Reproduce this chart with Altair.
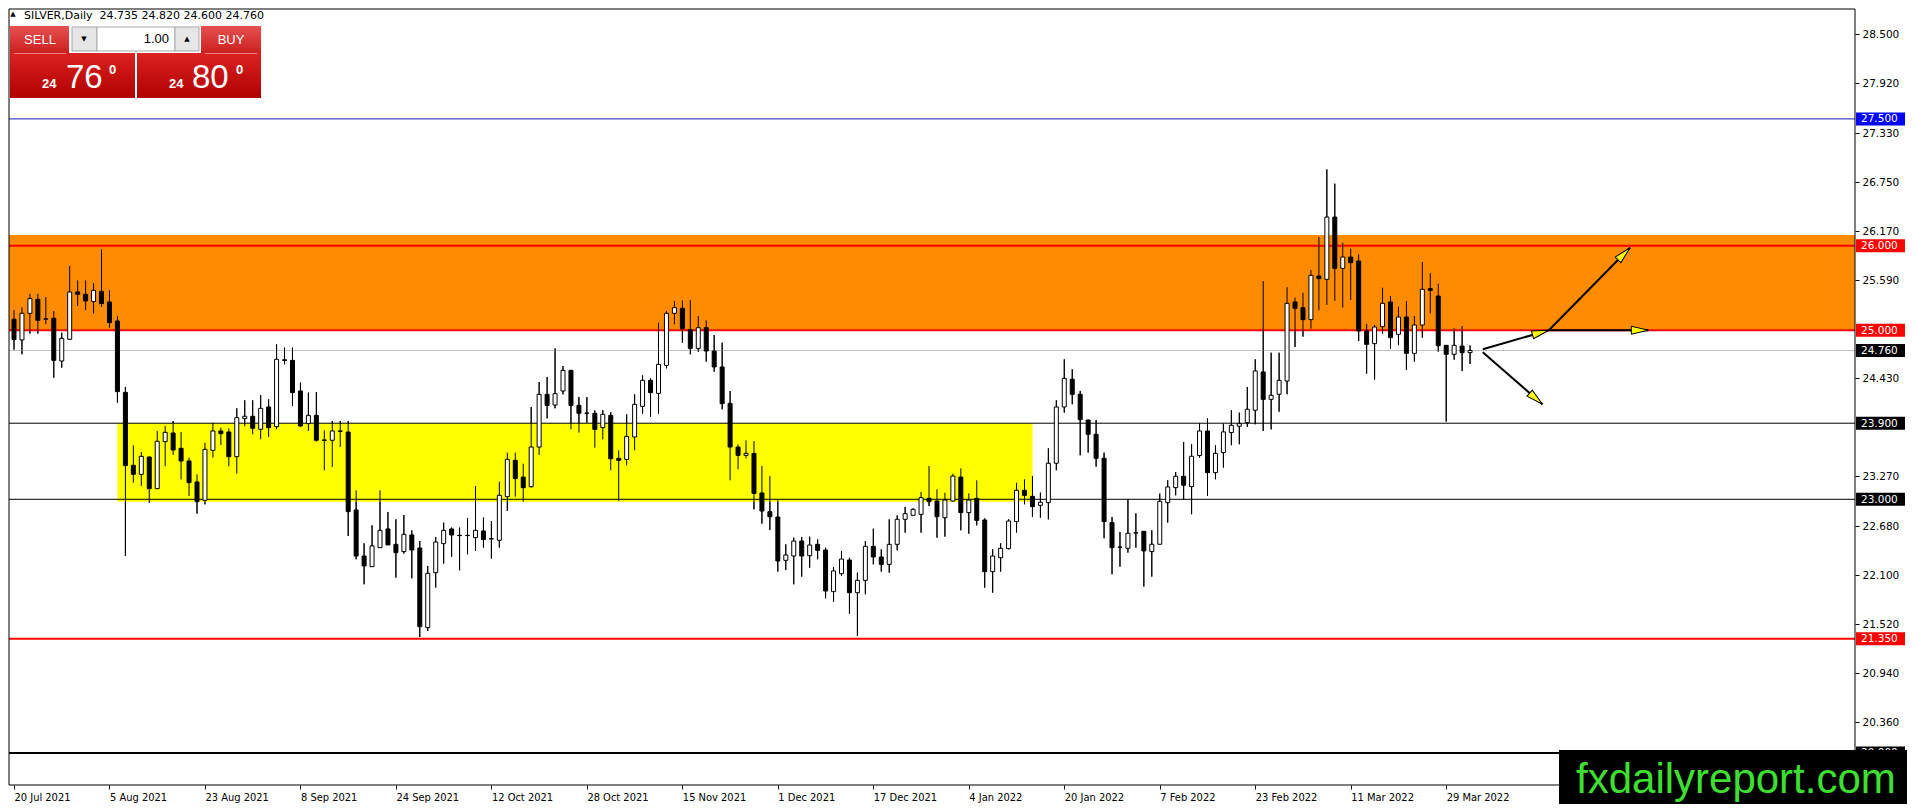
import math
import altair as alt
import pandas as pd

# ---------------- data ----------------
opens = [25.13, 24.885, 25.20, 25.366, 25.13, 25.141, 24.636, 24.892, 25.452, 25.425,
         25.338, 25.46, 25.334, 25.109, 24.265, 23.402, 23.295, 23.50, 23.126, 23.682,
         23.784, 23.603, 23.453, 23.205, 22.988, 23.579, 23.808, 23.796, 23.504, 23.954,
         23.982, 23.828, 24.092, 23.859, 24.65, 24.644, 24.281, 23.895, 23.993, 23.702,
         23.698, 23.808, 23.796, 22.874, 22.329, 22.203, 22.428, 22.649, 22.467, 22.381,
         22.578, 22.424, 21.482, 22.132, 22.475, 22.649, 22.574, 22.57, 22.546, 22.625,
         22.53, 22.515, 23.031, 23.461, 23.263, 23.149, 23.618, 24.241, 24.115, 24.281,
         24.525, 24.111, 24.017, 24.017, 23.847, 23.993, 23.484, 23.472, 23.737, 24.099,
         24.407, 24.253, 24.584, 25.20, 25.259, 25.006, 24.785, 25.03, 24.754, 24.565,
         24.135, 23.618, 23.52, 23.543, 23.074, 22.853, 22.79, 22.278, 22.329, 22.506,
         22.333, 22.467, 22.40, 21.907, 22.12, 22.282, 21.895, 22.041, 22.443, 22.317,
         22.23, 22.467, 22.763, 22.81, 22.822, 23.011, 22.98, 22.782, 22.98, 23.263,
         22.842, 23.011, 22.755, 22.144, 22.309, 22.416, 22.736, 23.107, 23.035, 22.929,
         22.96, 23.426, 24.092, 24.42, 24.242, 23.938, 23.769, 23.485, 22.724, 22.436,
         22.42, 22.6, 22.621, 22.381, 22.468, 22.96, 23.138, 23.272, 23.15, 23.517,
         23.808, 23.315, 23.552, 23.789, 23.864, 23.907, 24.053, 24.506, 24.182, 24.242,
         24.399, 25.334, 25.267, 25.125, 25.641, 25.602, 26.339, 25.732, 25.866, 25.819,
         24.991, 24.841, 25.042, 25.334, 24.951, 25.156, 24.726, 25.062, 25.492, 25.405,
         24.821, 24.715, 24.813, 24.735]
highs = [25.24, 25.27, 25.43, 25.43, 25.393, 25.228, 24.971, 25.76, 25.59, 25.59,
         25.559, 25.957, 25.472, 25.168, 24.329, 23.638, 23.56, 23.508, 23.808, 23.867,
         23.926, 23.796, 23.493, 23.295, 23.67, 23.903, 23.848, 23.84, 24.076, 24.171,
         24.171, 24.234, 24.183, 24.833, 24.794, 24.794, 24.38, 24.262, 24.269, 23.816,
         23.926, 23.926, 23.926, 23.106, 22.479, 22.692, 23.106, 22.85, 22.763, 22.814,
         22.633, 22.507, 22.211, 22.554, 22.724, 22.665, 22.665, 22.775, 23.157, 22.783,
         22.743, 23.209, 23.552, 23.552, 23.421, 24.091, 24.387, 24.446, 24.785, 24.576,
         24.525, 24.21, 24.21, 24.052, 24.056, 24.032, 23.579, 24.005, 24.241, 24.466,
         24.431, 25.089, 25.227, 25.345, 25.353, 25.357, 25.168, 25.117, 24.943, 24.852,
         24.281, 23.65, 23.697, 23.689, 23.394, 23.275, 22.991, 22.467, 22.546, 22.554,
         22.558, 22.526, 22.428, 22.199, 22.388, 22.309, 22.132, 22.506, 22.652, 22.408,
         22.763, 22.81, 22.909, 22.893, 23.086, 23.394, 23.118, 23.078, 23.303, 23.366,
         23.07, 23.224, 22.775, 22.408, 22.479, 22.763, 23.197, 23.237, 23.276, 23.079,
         23.603, 24.171, 24.656, 24.538, 24.282, 23.938, 23.938, 23.552, 22.791, 22.614,
         23.0, 22.834, 22.621, 22.633, 23.067, 23.225, 23.323, 23.678, 23.651, 23.899,
         23.958, 23.639, 23.895, 24.053, 24.025, 24.329, 24.656, 25.582, 24.734, 24.734,
         25.511, 25.385, 25.444, 25.712, 26.103, 26.903, 26.734, 26.036, 25.965, 25.898,
         25.077, 25.062, 25.503, 25.405, 25.279, 25.346, 25.168, 25.807, 25.677, 25.551,
         24.821, 25.022, 25.05, 24.82]
lows = [24.77, 24.715, 24.96, 24.96, 25.07, 24.439, 24.557, 24.89, 25.287, 25.239,
        25.196, 25.275, 25.03, 24.143, 22.33, 23.197, 23.158, 22.96, 23.12, 23.39,
        23.524, 23.236, 23.039, 22.83, 22.94, 23.493, 23.642, 23.39, 23.303, 23.863,
        23.769, 23.71, 23.737, 23.828, 24.597, 24.104, 23.855, 23.808, 23.682, 23.343,
        23.382, 23.619, 22.566, 22.29, 21.994, 22.203, 22.428, 22.46, 22.073, 22.357,
        22.065, 21.371, 21.442, 21.955, 22.239, 22.318, 22.16, 22.349, 22.389, 22.428,
        22.298, 22.428, 22.862, 23.031, 22.972, 23.137, 23.524, 23.957, 24.076, 24.241,
        23.827, 23.788, 23.906, 23.61, 23.709, 23.342, 22.98, 23.401, 23.579, 24.013,
        23.977, 24.013, 24.549, 25.069, 24.852, 24.715, 24.746, 24.628, 24.509, 24.064,
        23.224, 23.354, 23.484, 22.881, 22.711, 22.637, 22.144, 22.163, 21.994, 22.085,
        22.191, 22.29, 21.828, 21.789, 22.092, 21.647, 21.383, 21.876, 22.23, 22.144,
        22.132, 22.396, 22.605, 22.81, 22.605, 22.92, 22.546, 22.558, 22.972, 22.633,
        22.593, 22.692, 21.954, 21.895, 22.144, 22.408, 22.606, 22.941, 22.791, 22.783,
        22.763, 23.343, 24.025, 24.124, 23.521, 23.552, 23.386, 22.539, 22.113, 22.203,
        22.369, 22.428, 21.967, 22.085, 22.468, 22.724, 23.047, 22.991, 22.823, 23.493,
        23.039, 23.237, 23.375, 23.639, 23.651, 23.856, 23.887, 23.808, 23.827, 24.036,
        24.242, 24.801, 24.924, 25.018, 25.235, 25.298, 25.346, 25.267, 25.357, 24.872,
        24.486, 24.415, 24.959, 24.782, 24.825, 24.529, 24.628, 24.912, 25.2, 24.746,
        23.918, 24.652, 24.518, 24.60]
closes = [24.89, 25.20, 25.374, 25.117, 25.135, 24.644, 24.904, 25.452, 25.425, 25.346,
          25.472, 25.314, 25.09, 24.273, 23.398, 23.295, 23.508, 23.126, 23.686, 23.792,
          23.583, 23.453, 23.197, 22.972, 23.591, 23.808, 23.776, 23.504, 23.966, 23.982,
          23.84, 24.076, 23.847, 24.656, 24.643, 24.262, 23.867, 23.993, 23.698, 23.697,
          23.808, 23.804, 22.854, 22.329, 22.211, 22.448, 22.633, 22.46, 22.369, 22.586,
          22.40, 21.493, 22.124, 22.495, 22.633, 22.578, 22.57, 22.574, 22.633, 22.523,
          22.534, 23.047, 23.473, 23.244, 23.137, 23.618, 24.241, 24.111, 24.249, 24.525,
          24.111, 24.017, 24.021, 23.827, 24.005, 23.48, 23.461, 23.744, 24.123, 24.407,
          24.261, 24.596, 25.20, 25.267, 25.018, 24.785, 25.03, 24.754, 24.565, 24.131,
          23.618, 23.52, 23.543, 23.07, 22.861, 22.794, 22.27, 22.341, 22.506, 22.329,
          22.459, 22.396, 21.915, 22.152, 22.293, 21.895, 22.041, 22.443, 22.317, 22.23,
          22.467, 22.763, 22.83, 22.881, 23.019, 22.972, 22.794, 22.991, 23.275, 22.842,
          22.991, 22.751, 22.144, 22.329, 22.42, 22.743, 23.107, 23.047, 22.913, 22.964,
          23.426, 24.092, 24.431, 24.242, 23.942, 23.769, 23.485, 22.736, 22.428, 22.432,
          22.598, 22.604, 22.389, 22.468, 22.976, 23.146, 23.272, 23.166, 23.509, 23.808,
          23.315, 23.544, 23.797, 23.875, 23.895, 24.065, 24.518, 24.182, 24.23, 24.407,
          25.318, 25.259, 25.125, 25.649, 25.61, 26.339, 25.732, 25.866, 25.799, 24.991,
          24.833, 25.038, 25.318, 24.912, 25.156, 24.726, 25.062, 25.484, 25.472, 24.817,
          24.715, 24.821, 24.734, 24.76]

date_ticks = [0, 12, 24, 36, 48, 60, 72, 84, 96, 108, 120, 132, 144, 156, 168, 180]
date_labels = ["20 Jul 2021", "5 Aug 2021", "23 Aug 2021", "8 Sep 2021", "24 Sep 2021",
               "12 Oct 2021", "28 Oct 2021", "15 Nov 2021", "1 Dec 2021", "17 Dec 2021",
               "4 Jan 2022", "20 Jan 2022", "7 Feb 2022", "23 Feb 2022", "11 Mar 2022",
               "29 Mar 2022"]
price_ticks = [28.5, 27.92, 27.33, 26.75, 26.17, 25.59, 24.43, 23.27, 22.68, 22.1,
               21.52, 20.94, 20.36]

level_prices = [27.5, 26.0, 25.0, 24.76, 23.9, 23.0, 21.35, 20.0]
level_line_colors = ["#1a1ab4", "#ff0000", "#ff0000", "#c0c0c0", "#000000", "#000000", "#ff0000", "#000000"]
level_line_widths = [1, 2, 2, 1, 1, 1, 2, 2]
level_box_colors = ["#0000ff", "#ff0000", "#ff0000", "#000000", "#000000", "#000000", "#ff0000", "#000000"]

orange_zone = [24.99, 26.126]
yellow_zone_x = [13, 128]
yellow_zone_y = [22.97, 23.90]

arrow_x0 = [184.6, 192.9, 192.9, 184.6]
arrow_y0 = [24.774, 25.0, 25.0, 24.74]
arrow_x1 = [192.9, 203.1, 205.4, 192.1]
arrow_y1 = [25.0, 25.976, 25.0, 24.124]

header = "SILVER,Daily\u00a0 24.735 24.820 24.600 24.760"

# ---------------- layout ----------------
W, H = 1846, 776
XMIN, XMAX = 0.0, 230.75
YMIN, YMAX = 19.62, 28.80
ppx = W / (XMAX - XMIN)
ppy = H / (YMAX - YMIN)

xs = alt.Scale(domain=[XMIN, XMAX], nice=False, zero=False)
ys = alt.Scale(domain=[YMIN, YMAX], nice=False, zero=False)

label_expr = "[" + ",".join("'%s'" % s for s in date_labels) + "][round(datum.value/12)]"
xaxis = alt.Axis(values=date_ticks, labelExpr=label_expr, orient="bottom", grid=False,
                 domain=False, ticks=True, tickSize=4, tickColor="black",
                 labelAlign="left", labelBaseline="top",
                 labelFont="Liberation Sans Narrow, DejaVu Sans Condensed, Arial Narrow, sans-serif",
                 labelFontSize=11, labelColor="black", labelPadding=2,
                 labelOverlap=False, labelFlush=False, title=None)
yaxis = alt.Axis(values=price_ticks, format=".3f", orient="right", grid=False,
                 domain=False, ticks=True, tickSize=4, tickColor="black",
                 labelFont="DejaVu Sans", labelFontSize=10.5, labelColor="black",
                 labelPadding=3, labelOverlap=False, labelFlush=False, title=None)


def X(f):
    return alt.X(f, type="quantitative", scale=xs, axis=xaxis)


def Y(f):
    return alt.Y(f, type="quantitative", scale=ys, axis=yaxis)


n = len(opens)
cdf = pd.DataFrame({"i": list(range(n)), "O": opens, "H": highs, "L": lows, "C": closes})
cdf["dir"] = ["up" if c >= o else "down" for o, c in zip(opens, closes)]

one = pd.DataFrame({"k": [0]})


def box(x0, y0, x1, y1, **kw):
    return alt.Chart(one).mark_rect(**kw).encode(
        x=alt.value(x0), x2=alt.value(x1), y=alt.value(y0), y2=alt.value(y1))


def txt(x, y, s, **kw):
    return alt.Chart(one).mark_text(**kw).encode(
        x=alt.value(x), y=alt.value(y), text=alt.value(s))


# wicks (carries the axes)
wicks = alt.Chart(cdf).mark_rule(color="black", strokeWidth=1, clip=True).encode(
    x=X("i"), y=Y("L"), y2="H")

layers = [wicks]

# zones
orange = alt.Chart(pd.DataFrame({"y0": [orange_zone[0]], "y1": [orange_zone[1]]})).mark_rect(
    color="#ff8c00", clip=True).encode(x=alt.value(0), x2=alt.value(W), y=Y("y0"), y2="y1")
yellow = alt.Chart(pd.DataFrame({"x0": [yellow_zone_x[0]], "x1": [yellow_zone_x[1]],
                                 "y0": [yellow_zone_y[0]], "y1": [yellow_zone_y[1]]})).mark_rect(
    color="#ffff00", clip=True).encode(x=X("x0"), x2="x1", y=Y("y0"), y2="y1")
layers += [orange, yellow]

# level lines
for p, col, sw in zip(level_prices, level_line_colors, level_line_widths):
    layers.append(alt.Chart(pd.DataFrame({"p": [p]})).mark_rule(color=col, strokeWidth=sw).encode(
        x=alt.value(0), x2=alt.value(W), y=Y("p")))

# candles
bodies = alt.Chart(cdf).mark_bar(width=4, stroke="black", strokeWidth=1, clip=True).encode(
    x=X("i"), y=Y("O"), y2="C",
    fill=alt.Fill("dir:N", scale=alt.Scale(domain=["up", "down"], range=["white", "black"]), legend=None))
layers += [wicks, bodies]

# arrows
adf = pd.DataFrame({"x0": arrow_x0, "y0": arrow_y0, "x1": arrow_x1, "y1": arrow_y1})
adf["ang"] = [math.degrees(math.atan2(-(b1 - b0) * ppy, (a1 - a0) * ppx)) % 360
              for a0, b0, a1, b1 in zip(arrow_x0, arrow_y0, arrow_x1, arrow_y1)]
layers.append(alt.Chart(adf).mark_rule(color="black", strokeWidth=2).encode(
    x=X("x0"), y=Y("y0"), x2="x1", y2="y1"))
layers.append(alt.Chart(adf).mark_point(shape="M0,0L-2,-0.47L-2,0.47Z", size=289, filled=True,
                                        fill="#ffff00", stroke="black", strokeWidth=1, opacity=1).encode(
    x=X("x1"), y=Y("y1"), angle=alt.Angle("ang:Q", scale=None)))

# frame
layers.append(box(0, 0, W, H, fillOpacity=0, stroke="black", strokeWidth=1))

# price labels on the axis
lab = pd.DataFrame({"p": level_prices, "box": level_box_colors})
layers.append(alt.Chart(lab).mark_rect(yOffset=-6.5, y2Offset=6.5).encode(
    x=alt.value(W + 1), x2=alt.value(W + 50), y=Y("p"), y2="p", fill=alt.Fill("box:N", scale=None)))
layers.append(alt.Chart(lab).mark_text(align="left", baseline="middle", font="DejaVu Sans",
                                       fontSize=10.5, color="white", dy=0.5).encode(
    x=alt.value(W + 6), y=Y("p"), text=alt.Text("p:Q", format=".3f")))

# header
layers.append(txt(4, 5, "\u25b2", font="DejaVu Sans", fontSize=7, color="black", baseline="middle", align="center"))
layers.append(txt(15, 1, header, font="DejaVu Sans", fontSize=11, color="black", baseline="top", align="left"))

# one-click trading widget
btn_grad = alt.LinearGradient(gradient="linear", x1=0, x2=0, y1=0, y2=1,
                              stops=[alt.GradientStop(offset=0, color="#e85050"),
                                     alt.GradientStop(offset=1, color="#cc2020")])
price_grad = alt.LinearGradient(gradient="linear", x1=0, x2=0, y1=0, y2=1,
                                stops=[alt.GradientStop(offset=0, color="#dc2222"),
                                       alt.GradientStop(offset=1, color="#b00000")])
layers.append(box(1, 17, 60, 44, fill=btn_grad))
layers.append(box(192, 17, 252, 44, fill=btn_grad))
layers.append(box(63, 18, 88, 42, fill="#e6e6e6", stroke="#a8a8a8", strokeWidth=1))
layers.append(box(88, 18, 166, 42, fill="white", stroke="#a8a8a8", strokeWidth=1))
layers.append(box(166, 18, 190, 42, fill="#e6e6e6", stroke="#a8a8a8", strokeWidth=1))
layers.append(box(1, 44, 126, 89, fill=price_grad))
layers.append(box(128, 44, 252, 89, fill=price_grad))
layers.append(box(5, 44, 57, 45, fill="#f08080"))
layers.append(box(196, 44, 248, 45, fill="#f08080"))
layers.append(txt(31, 31, "SELL", font="Liberation Sans", fontSize=13, color="white", baseline="middle", align="center"))
layers.append(txt(222, 31, "BUY", font="Liberation Sans", fontSize=13, color="white", baseline="middle", align="center"))
layers.append(txt(75, 30, "\u25bc", font="DejaVu Sans", fontSize=7, color="black", baseline="middle", align="center"))
layers.append(txt(178, 30, "\u25b2", font="DejaVu Sans", fontSize=7, color="black", baseline="middle", align="center"))
layers.append(txt(160, 30, "1.00", font="Liberation Sans", fontSize=13, color="black", baseline="middle", align="right"))
for x24, xbig, xsup, big in [(33, 57, 100, "76"), (160, 183, 227, "80")]:
    layers.append(txt(x24, 79, "24", font="Liberation Sans", fontSize=13, fontWeight="bold",
                      color="white", align="left", baseline="alphabetic"))
    layers.append(txt(xbig, 79, big, font="Liberation Sans", fontSize=33,
                      color="white", align="left", baseline="alphabetic"))
    layers.append(txt(xsup, 65, "0", font="Liberation Sans", fontSize=13, fontWeight="bold",
                      color="white", align="left", baseline="alphabetic"))

# watermark logo
layers.append(box(1550, 741, 1898, 795, fill="black"))
layers.append(txt(1567, 784, "fxdailyreport.com", font="Liberation Sans", fontSize=42,
                  color="#3de030", align="left", baseline="alphabetic"))

chart = alt.layer(*layers).properties(
    width=W, height=H, padding=0, background="white"
).configure_view(stroke=None)

chart.save("out.html", embed_options={"renderer": "svg", "actions": False})
